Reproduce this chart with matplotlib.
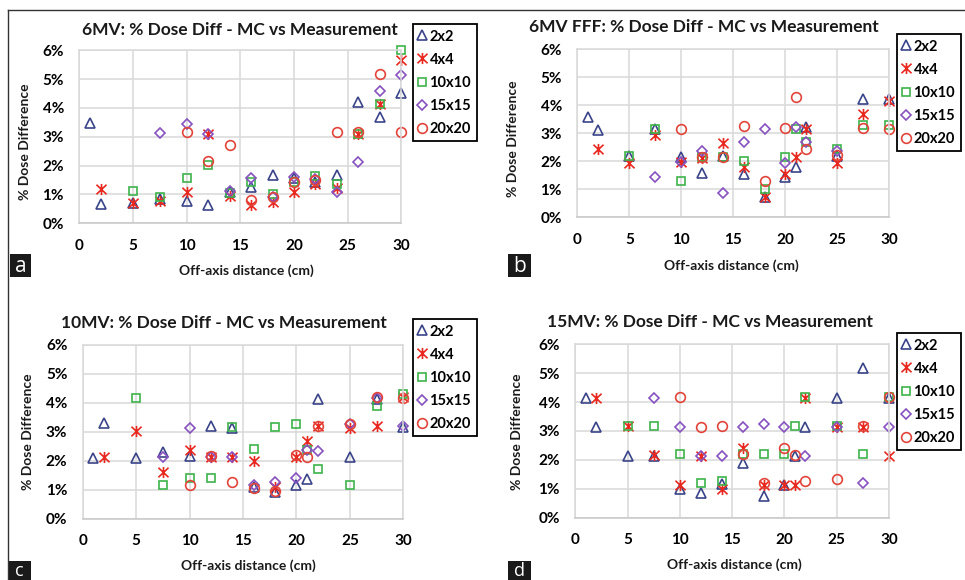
import matplotlib
matplotlib.use("Agg")
import matplotlib.pyplot as plt
from matplotlib.path import Path
from matplotlib.patches import Rectangle
from matplotlib.lines import Line2D
from matplotlib.ticker import FuncFormatter

plt.rcParams['font.family'] = ['Lato', 'DejaVu Sans']

# ---- data: % dose difference (MC vs measurement) vs off-axis distance (cm) ----
field_sizes = ["2x2", "4x4", "10x10", "15x15", "20x20"]
panel_titles = ["6MV: % Dose Diff - MC vs Measurement",
                "6MV FFF: % Dose Diff - MC vs Measurement",
                "10MV: % Dose Diff - MC vs Measurement",
                "15MV: % Dose Diff - MC vs Measurement"]
panel_letters = ["a", "b", "c", "d"]
x_ticks = [0, 5, 10, 15, 20, 25, 30]
y_ticks = [0, 1, 2, 3, 4, 5, 6]

# 6MV
mv6_2x2_x = [1, 2, 5, 7.5, 10, 12, 14, 16, 18, 20, 22, 24, 26, 28, 30]
mv6_2x2_y = [3.49, 0.67, 0.70, 0.85, 0.78, 0.65, 1.10, 1.27, 1.67, 1.56, 1.44, 1.67, 4.20, 3.67, 4.52]
mv6_4x4_x = [2, 5, 7.5, 10, 12, 14, 16, 18, 20, 22, 24, 26, 28, 30]
mv6_4x4_y = [1.18, 0.69, 0.77, 1.10, 3.11, 0.96, 0.62, 0.75, 1.07, 1.38, 1.21, 3.11, 4.13, 5.67]
mv6_10x10_x = [5, 7.5, 10, 12, 14, 16, 18, 20, 22, 24, 26, 28, 30]
mv6_10x10_y = [1.13, 0.90, 1.56, 2.02, 1.04, 1.42, 1.01, 1.44, 1.64, 1.35, 3.11, 4.15, 6.02]
mv6_15x15_x = [7.5, 10, 12, 14, 16, 18, 20, 22, 24, 26, 28, 30]
mv6_15x15_y = [3.14, 3.46, 3.11, 1.13, 1.56, 0.92, 1.59, 1.52, 1.10, 2.13, 4.59, 5.16]
mv6_20x20_x = [10, 12, 14, 16, 18, 20, 22, 24, 26, 28, 30]
mv6_20x20_y = [3.17, 2.17, 2.71, 0.81, 0.92, 1.44, 1.50, 3.16, 3.16, 5.17, 3.16]

# 6MV FFF
fff_2x2_x = [1, 2, 5, 7.5, 10, 12, 14, 16, 18, 20, 21, 22, 25, 27.5, 30]
fff_2x2_y = [3.57, 3.12, 2.20, 3.14, 2.17, 1.57, 2.19, 1.54, 0.71, 1.43, 1.79, 3.24, 2.19, 4.21, 4.21]
fff_4x4_x = [2, 5, 7.5, 10, 12, 14, 16, 18, 20, 21, 22, 25, 27.5, 30]
fff_4x4_y = [2.44, 1.95, 2.94, 1.99, 2.11, 2.64, 1.81, 0.74, 1.54, 2.17, 3.14, 1.95, 3.69, 4.15]
fff_10x10_x = [5, 7.5, 10, 12, 14, 16, 18, 20, 21, 22, 25, 27.5, 30]
fff_10x10_y = [2.20, 3.15, 1.30, 2.17, 2.17, 2.02, 1.01, 2.17, 3.14, 2.70, 2.43, 3.30, 3.30]
fff_15x15_x = [7.5, 10, 12, 14, 16, 18, 20, 21, 22, 25]
fff_15x15_y = [1.45, 1.99, 2.37, 0.88, 2.70, 3.14, 1.93, 3.21, 2.70, 2.38]
fff_20x20_x = [10, 12, 14, 16, 18, 20, 21, 22, 25, 27.5, 30]
fff_20x20_y = [3.15, 2.14, 2.14, 3.26, 1.31, 3.18, 4.31, 2.44, 2.23, 3.18, 3.15]

# 10MV
mv10_2x2_x = [1, 2, 5, 7.5, 10, 12, 14, 16, 18, 20, 21, 22, 25, 27.5, 30]
mv10_2x2_y = [2.11, 3.29, 2.11, 2.32, 2.18, 3.21, 3.12, 1.11, 0.93, 1.16, 1.36, 4.14, 2.14, 4.14, 3.18]
mv10_4x4_x = [2, 5, 7.5, 10, 12, 14, 16, 18, 20, 21, 22, 25, 27.5, 30]
mv10_4x4_y = [2.13, 3.04, 1.60, 2.37, 2.14, 2.14, 1.99, 1.11, 2.14, 2.68, 3.21, 3.15, 3.21, 4.22]
mv10_10x10_x = [5, 7.5, 10, 12, 14, 16, 18, 20, 21, 22, 25, 27.5, 30]
mv10_10x10_y = [4.18, 1.16, 1.42, 1.42, 3.18, 2.41, 3.18, 3.26, 2.37, 1.72, 1.16, 3.91, 4.31]
mv10_15x15_x = [7.5, 10, 12, 14, 16, 18, 20, 21, 22, 25, 27.5, 30]
mv10_15x15_y = [2.14, 3.15, 2.14, 2.14, 1.16, 1.28, 1.39, 2.37, 2.34, 3.26, 4.16, 3.21]
mv10_20x20_x = [10, 12, 14, 16, 18, 20, 21, 22, 25, 27.5, 30]
mv10_20x20_y = [1.16, 2.18, 1.28, 1.05, 0.97, 2.20, 2.14, 3.21, 3.26, 4.20, 4.18]

# 15MV
mv15_2x2_x = [1, 2, 5, 7.5, 10, 12, 14, 16, 18, 20, 21, 22, 25, 27.5, 30]
mv15_2x2_y = [4.15, 3.15, 2.15, 2.15, 0.99, 0.84, 1.15, 1.91, 0.75, 1.13, 2.15, 3.15, 4.15, 5.17, 4.15]
mv15_4x4_x = [2, 5, 7.5, 10, 12, 14, 16, 18, 20, 21, 22, 25, 27.5, 30]
mv15_4x4_y = [4.15, 3.18, 2.17, 1.13, 2.15, 0.99, 2.40, 1.13, 1.13, 1.13, 4.15, 3.15, 3.15, 2.15]
mv15_10x10_x = [5, 7.5, 10, 12, 14, 16, 18, 20, 21, 22, 25, 27.5, 30]
mv15_10x10_y = [3.18, 3.18, 2.19, 1.19, 1.27, 2.19, 2.19, 2.19, 3.18, 4.19, 3.18, 2.19, 4.19]
mv15_15x15_x = [7.5, 10, 12, 14, 16, 18, 20, 22, 25, 27.5, 30]
mv15_15x15_y = [4.15, 3.15, 2.15, 2.15, 3.15, 3.24, 3.15, 2.15, 3.15, 1.21, 3.15]
mv15_20x20_x = [10, 12, 14, 16, 18, 20, 21, 22, 25, 27.5, 30]
mv15_20x20_y = [4.18, 3.15, 3.18, 2.19, 1.19, 2.42, 2.17, 1.28, 1.33, 3.18, 4.19]

panels_data = [
    [(mv6_2x2_x, mv6_2x2_y), (mv6_4x4_x, mv6_4x4_y), (mv6_10x10_x, mv6_10x10_y),
     (mv6_15x15_x, mv6_15x15_y), (mv6_20x20_x, mv6_20x20_y)],
    [(fff_2x2_x, fff_2x2_y), (fff_4x4_x, fff_4x4_y), (fff_10x10_x, fff_10x10_y),
     (fff_15x15_x, fff_15x15_y), (fff_20x20_x, fff_20x20_y)],
    [(mv10_2x2_x, mv10_2x2_y), (mv10_4x4_x, mv10_4x4_y), (mv10_10x10_x, mv10_10x10_y),
     (mv10_15x15_x, mv10_15x15_y), (mv10_20x20_x, mv10_20x20_y)],
    [(mv15_2x2_x, mv15_2x2_y), (mv15_4x4_x, mv15_4x4_y), (mv15_10x10_x, mv15_10x10_y),
     (mv15_15x15_x, mv15_15x15_y), (mv15_20x20_x, mv15_20x20_y)],
]

# ---- styling ----
# X with a vertical stroke through it
asterisk = Path([(-1, -0.95), (1, 0.95), (-1, 0.95), (1, -0.95), (0, -1.1), (0, 1.1)],
                [Path.MOVETO, Path.LINETO, Path.MOVETO, Path.LINETO, Path.MOVETO, Path.LINETO])
series_style = [
    dict(marker='^', color='#3a4488', ms=7.0),
    dict(marker=asterisk, color='#e8281f', ms=8.0),
    dict(marker='s', color='#3db44a', ms=6.3),
    dict(marker='D', color='#8752bf', ms=5.0),
    dict(marker='o', color='#e2443a', ms=7.0),
]

W, H = 965, 580
fig = plt.figure(figsize=(W / 100, H / 100), dpi=100)

# panel geometry in pixels: (left, right, top, bottom) of plot area
axes_px = [(79.3, 401.3, 50.3, 223.3), (577.3, 889.3, 49.3, 217.3),
           (82.7, 403.3, 345.0, 518.7), (575.3, 889.0, 344.3, 517.7)]
title_px = [(240, 30), (704, 27), (224, 323), (710, 322)]
legend_px = [(413, 24), (897, 34), (413, 319), (897, 333)]
ylabel_px = [(25, 142), (513, 139), (28, 432), (517, 432)]
xlabel_px = [(246, 271), (731, 266), (248, 566), (734, 565)]
letter_px = [(10, 254, 21, 23), (508, 254, 23, 23), (8, 561, 23, 19), (508, 561, 23, 19)]


def fx(px):
    return px / W


def fy(py):
    return 1 - py / H


grid_color = '#d9d9d9'
pct = FuncFormatter(lambda v, _: f"{v:.0f}%")

for i in range(4):
    l, r, t, b = axes_px[i]
    ax = fig.add_axes([fx(l), fy(b), (r - l) / W, (b - t) / H])
    ax.set_xlim(0, 30)
    ax.set_ylim(0, 6)
    ax.set_xticks(x_ticks)
    ax.set_yticks(y_ticks)
    ax.yaxis.set_major_formatter(pct)
    ax.grid(True, color=grid_color, lw=1.1)
    ax.set_axisbelow(True)
    for s in ax.spines.values():
        s.set_color(grid_color)
        s.set_linewidth(1.1)
    ax.spines['bottom'].set_color('#c8c8c8')
    ax.tick_params(length=0, labelsize=11, pad=11)
    for lab in ax.get_xticklabels() + ax.get_yticklabels():
        lab.set_fontweight('bold')

    handles = []
    for (xs, ys), st, name in zip(panels_data[i], series_style, field_sizes):
        ln, = ax.plot(xs, ys, ls='none', marker=st['marker'], ms=st['ms'],
                      mfc='none', mec=st['color'], mew=1.2, clip_on=False,
                      label=name)
        handles.append(ln)

    lx, ly = legend_px[i]
    leg = ax.legend(handles=handles, loc='upper left',
                    bbox_to_anchor=(fx(lx), fy(ly)), bbox_transform=fig.transFigure,
                    borderaxespad=0, frameon=True, fancybox=False,
                    edgecolor='black', framealpha=1, handlelength=0.45,
                    handletextpad=0.3, labelspacing=0.62, borderpad=0.38,
                    prop=dict(family=['Lato', 'DejaVu Sans'], weight='bold', size=10.5))
    leg.get_frame().set_linewidth(1.3)

    tx, ty = title_px[i]
    fig.text(fx(tx), fy(ty), panel_titles[i], ha='center', va='center',
             fontsize=12.5, fontweight='bold', color='#1a1a1a')
    yx, yy = ylabel_px[i]
    fig.text(fx(yx), fy(yy), "% Dose Difference", ha='center', va='center',
             rotation=90, fontsize=10, fontweight='bold', color='#1a1a1a')
    xx, xy = xlabel_px[i]
    fig.text(fx(xx), fy(xy), "Off-axis distance (cm)", ha='center', va='center',
             fontsize=10, fontweight='bold', color='#1a1a1a')

    bx, by, bw, bh = letter_px[i]
    fig.patches.append(Rectangle((fx(bx), fy(by + bh)), bw / W, bh / H,
                                 transform=fig.transFigure, facecolor='#1a1a1a',
                                 edgecolor='none'))
    fig.text(fx(bx + bw / 2), fy(by + bh / 2 + 1), panel_letters[i], ha='center',
             va='center', fontsize=13 if i >= 2 else 15, color='white',
             family=['Open Sans', 'DejaVu Sans'])

# outer frame lines (top and left)
fig.lines.append(Line2D([fx(7.5), 1.0], [fy(9.5), fy(9.5)], transform=fig.transFigure,
                        color='#333333', lw=1.0))
fig.lines.append(Line2D([fx(8), fx(8)], [fy(9.5), 0.0], transform=fig.transFigure,
                        color='#333333', lw=1.0))

fig.savefig("out.png", dpi=100, facecolor='white')
